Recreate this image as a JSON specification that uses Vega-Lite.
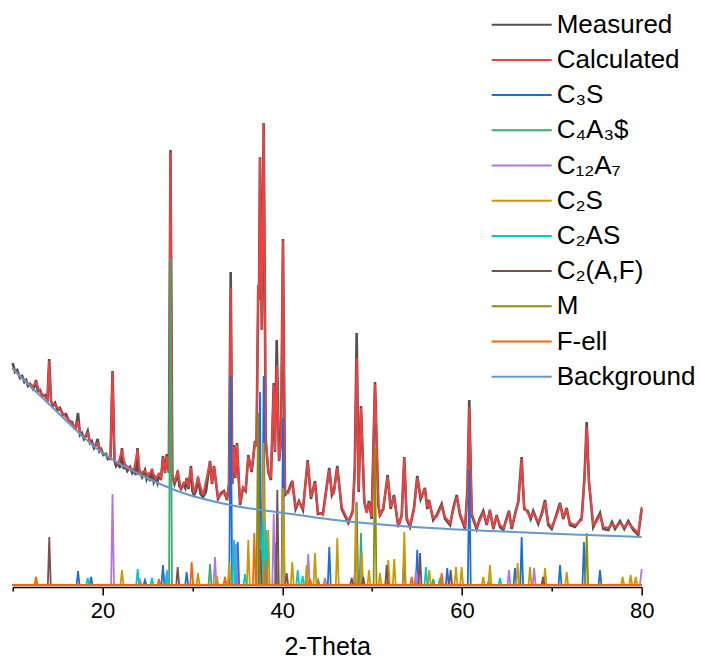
{
"$schema":"https://vega.github.io/schema/vega-lite/v6.json",
"width":629,"height":577,
"autosize":"none",
"padding":{"left":12.7,"top":10,"right":59.3,"bottom":73},
"config":{"view":{"stroke":null},"font":"Liberation Sans","axis":{"grid":false}},
"data":{"values":[
{"s":"Measured","x":10.0,"y":222},{"s":"Measured","x":10.25,"y":213},{"s":"Measured","x":10.5,"y":215},{"s":"Measured","x":10.81,"y":207},{"s":"Measured","x":11.05,"y":209},{"s":"Measured","x":11.3,"y":203},{"s":"Measured","x":11.5,"y":205},{"s":"Measured","x":11.7,"y":199},{"s":"Measured","x":11.95,"y":201},{"s":"Measured","x":12.26,"y":196},{"s":"Measured","x":12.45,"y":199},{"s":"Measured","x":12.59,"y":205},{"s":"Measured","x":12.8,"y":194},{"s":"Measured","x":13.04,"y":195},{"s":"Measured","x":13.3,"y":189},{"s":"Measured","x":13.59,"y":190},{"s":"Measured","x":13.87,"y":186},{"s":"Measured","x":14.06,"y":226},{"s":"Measured","x":14.26,"y":184},{"s":"Measured","x":14.5,"y":179},{"s":"Measured","x":14.71,"y":182},{"s":"Measured","x":15.0,"y":175},{"s":"Measured","x":15.26,"y":177},{"s":"Measured","x":15.6,"y":170},{"s":"Measured","x":15.93,"y":171},{"s":"Measured","x":16.25,"y":164},{"s":"Measured","x":16.6,"y":163},{"s":"Measured","x":16.85,"y":157},{"s":"Measured","x":17.04,"y":158},{"s":"Measured","x":17.27,"y":172},{"s":"Measured","x":17.49,"y":150},{"s":"Measured","x":17.7,"y":152},{"s":"Measured","x":17.93,"y":146},{"s":"Measured","x":18.15,"y":149},{"s":"Measured","x":18.35,"y":154},{"s":"Measured","x":18.6,"y":142},{"s":"Measured","x":18.8,"y":144},{"s":"Measured","x":19.05,"y":137},{"s":"Measured","x":19.25,"y":140},{"s":"Measured","x":19.46,"y":146},{"s":"Measured","x":19.65,"y":134},{"s":"Measured","x":19.83,"y":136},{"s":"Measured","x":20.1,"y":130},{"s":"Measured","x":20.38,"y":131},{"s":"Measured","x":20.6,"y":126},{"s":"Measured","x":20.88,"y":127},{"s":"Measured","x":21.11,"y":214},{"s":"Measured","x":21.33,"y":124},{"s":"Measured","x":21.5,"y":119},{"s":"Measured","x":21.72,"y":122},{"s":"Measured","x":21.95,"y":117},{"s":"Measured","x":22.16,"y":137},{"s":"Measured","x":22.35,"y":116},{"s":"Measured","x":22.49,"y":120},{"s":"Measured","x":22.75,"y":114},{"s":"Measured","x":23.05,"y":118},{"s":"Measured","x":23.3,"y":112},{"s":"Measured","x":23.5,"y":115},{"s":"Measured","x":23.7,"y":110},{"s":"Measured","x":23.89,"y":137},{"s":"Measured","x":24.05,"y":110},{"s":"Measured","x":24.17,"y":113},{"s":"Measured","x":24.4,"y":108},{"s":"Measured","x":24.72,"y":115},{"s":"Measured","x":24.9,"y":106},{"s":"Measured","x":25.06,"y":110},{"s":"Measured","x":25.3,"y":104},{"s":"Measured","x":25.5,"y":116},{"s":"Measured","x":25.7,"y":103},{"s":"Measured","x":25.89,"y":107},{"s":"Measured","x":26.1,"y":102},{"s":"Measured","x":26.28,"y":112},{"s":"Measured","x":26.5,"y":105},{"s":"Measured","x":26.72,"y":129},{"s":"Measured","x":26.95,"y":112},{"s":"Measured","x":27.14,"y":131},{"s":"Measured","x":27.38,"y":112},{"s":"Measured","x":27.56,"y":435},{"s":"Measured","x":27.76,"y":110},{"s":"Measured","x":28.01,"y":101},{"s":"Measured","x":28.2,"y":106},{"s":"Measured","x":28.36,"y":114},{"s":"Measured","x":28.55,"y":99},{"s":"Measured","x":28.73,"y":96},{"s":"Measured","x":29.0,"y":101},{"s":"Measured","x":29.2,"y":97},{"s":"Measured","x":29.36,"y":107},{"s":"Measured","x":29.56,"y":96},{"s":"Measured","x":29.84,"y":119},{"s":"Measured","x":30.0,"y":94},{"s":"Measured","x":30.17,"y":90},{"s":"Measured","x":30.4,"y":94},{"s":"Measured","x":30.62,"y":108},{"s":"Measured","x":30.9,"y":91},{"s":"Measured","x":31.18,"y":88},{"s":"Measured","x":31.5,"y":93},{"s":"Measured","x":31.96,"y":124},{"s":"Measured","x":32.18,"y":101},{"s":"Measured","x":32.4,"y":119},{"s":"Measured","x":32.85,"y":86},{"s":"Measured","x":33.2,"y":92},{"s":"Measured","x":33.51,"y":94},{"s":"Measured","x":33.85,"y":85},{"s":"Measured","x":34.07,"y":101},{"s":"Measured","x":34.26,"y":313},{"s":"Measured","x":34.44,"y":101},{"s":"Measured","x":34.6,"y":140},{"s":"Measured","x":34.77,"y":107},{"s":"Measured","x":34.96,"y":142},{"s":"Measured","x":35.3,"y":80},{"s":"Measured","x":35.63,"y":97},{"s":"Measured","x":35.93,"y":94},{"s":"Measured","x":36.22,"y":130},{"s":"Measured","x":36.6,"y":113},{"s":"Measured","x":36.96,"y":144},{"s":"Measured","x":37.13,"y":139},{"s":"Measured","x":37.33,"y":300},{"s":"Measured","x":37.41,"y":285},{"s":"Measured","x":37.52,"y":428},{"s":"Measured","x":37.72,"y":255},{"s":"Measured","x":37.93,"y":462},{"s":"Measured","x":38.16,"y":145},{"s":"Measured","x":38.44,"y":113},{"s":"Measured","x":38.74,"y":105},{"s":"Measured","x":39.05,"y":202},{"s":"Measured","x":39.19,"y":133},{"s":"Measured","x":39.38,"y":245},{"s":"Measured","x":39.64,"y":124},{"s":"Measured","x":39.86,"y":144},{"s":"Measured","x":40.08,"y":346},{"s":"Measured","x":40.3,"y":90},{"s":"Measured","x":40.67,"y":94},{"s":"Measured","x":41.11,"y":104},{"s":"Measured","x":41.49,"y":76},{"s":"Measured","x":41.86,"y":84},{"s":"Measured","x":42.3,"y":75},{"s":"Measured","x":42.83,"y":125},{"s":"Measured","x":43.19,"y":86},{"s":"Measured","x":43.64,"y":104},{"s":"Measured","x":43.97,"y":71},{"s":"Measured","x":44.53,"y":72},{"s":"Measured","x":45.23,"y":117},{"s":"Measured","x":45.53,"y":90},{"s":"Measured","x":45.75,"y":94},{"s":"Measured","x":46.12,"y":119},{"s":"Measured","x":46.61,"y":76},{"s":"Measured","x":47.35,"y":62},{"s":"Measured","x":47.84,"y":74},{"s":"Measured","x":48.07,"y":117},{"s":"Measured","x":48.28,"y":252},{"s":"Measured","x":48.5,"y":93},{"s":"Measured","x":48.76,"y":179},{"s":"Measured","x":49.13,"y":83},{"s":"Measured","x":49.39,"y":73},{"s":"Measured","x":49.65,"y":84},{"s":"Measured","x":49.95,"y":66},{"s":"Measured","x":50.32,"y":203},{"s":"Measured","x":50.69,"y":80},{"s":"Measured","x":50.87,"y":70},{"s":"Measured","x":51.24,"y":76},{"s":"Measured","x":51.73,"y":110},{"s":"Measured","x":52.06,"y":76},{"s":"Measured","x":52.43,"y":90},{"s":"Measured","x":52.91,"y":58},{"s":"Measured","x":53.29,"y":70},{"s":"Measured","x":53.58,"y":128},{"s":"Measured","x":53.84,"y":66},{"s":"Measured","x":54.21,"y":58},{"s":"Measured","x":54.66,"y":77},{"s":"Measured","x":55.02,"y":109},{"s":"Measured","x":55.4,"y":86},{"s":"Measured","x":55.88,"y":97},{"s":"Measured","x":56.14,"y":76},{"s":"Measured","x":56.33,"y":85},{"s":"Measured","x":56.8,"y":65},{"s":"Measured","x":57.18,"y":70},{"s":"Measured","x":57.74,"y":81},{"s":"Measured","x":58.11,"y":66},{"s":"Measured","x":58.67,"y":60},{"s":"Measured","x":59.03,"y":77},{"s":"Measured","x":59.41,"y":90},{"s":"Measured","x":59.78,"y":70},{"s":"Measured","x":60.34,"y":56},{"s":"Measured","x":60.61,"y":97},{"s":"Measured","x":60.81,"y":185},{"s":"Measured","x":61.08,"y":70},{"s":"Measured","x":61.63,"y":56},{"s":"Measured","x":62.0,"y":67},{"s":"Measured","x":62.37,"y":74},{"s":"Measured","x":62.75,"y":60},{"s":"Measured","x":63.11,"y":75},{"s":"Measured","x":63.49,"y":56},{"s":"Measured","x":63.86,"y":70},{"s":"Measured","x":64.23,"y":58},{"s":"Measured","x":64.6,"y":55},{"s":"Measured","x":64.9,"y":65},{"s":"Measured","x":65.23,"y":74},{"s":"Measured","x":65.53,"y":56},{"s":"Measured","x":65.98,"y":74},{"s":"Measured","x":66.27,"y":83},{"s":"Measured","x":66.46,"y":107},{"s":"Measured","x":66.64,"y":128},{"s":"Measured","x":66.79,"y":98},{"s":"Measured","x":66.93,"y":76},{"s":"Measured","x":67.31,"y":74},{"s":"Measured","x":67.64,"y":66},{"s":"Measured","x":67.93,"y":74},{"s":"Measured","x":68.49,"y":61},{"s":"Measured","x":68.9,"y":72},{"s":"Measured","x":69.24,"y":85},{"s":"Measured","x":69.6,"y":60},{"s":"Measured","x":69.98,"y":56},{"s":"Measured","x":70.46,"y":69},{"s":"Measured","x":70.91,"y":82},{"s":"Measured","x":71.27,"y":66},{"s":"Measured","x":71.65,"y":77},{"s":"Measured","x":72.02,"y":60},{"s":"Measured","x":72.58,"y":58},{"s":"Measured","x":73.32,"y":67},{"s":"Measured","x":73.63,"y":107},{"s":"Measured","x":73.88,"y":163},{"s":"Measured","x":74.13,"y":103},{"s":"Measured","x":74.61,"y":58},{"s":"Measured","x":74.97,"y":65},{"s":"Measured","x":75.36,"y":72},{"s":"Measured","x":75.73,"y":56},{"s":"Measured","x":76.29,"y":55},{"s":"Measured","x":76.7,"y":63},{"s":"Measured","x":77.03,"y":56},{"s":"Measured","x":77.59,"y":64},{"s":"Measured","x":78.06,"y":56},{"s":"Measured","x":78.51,"y":64},{"s":"Measured","x":79.06,"y":55},{"s":"Measured","x":79.62,"y":50},{"s":"Measured","x":80.0,"y":76},
{"s":"Calculated","x":10.0,"y":217},{"s":"Calculated","x":10.81,"y":209},{"s":"Calculated","x":11.7,"y":202},{"s":"Calculated","x":12.26,"y":199},{"s":"Calculated","x":12.59,"y":203},{"s":"Calculated","x":13.04,"y":193},{"s":"Calculated","x":13.59,"y":188},{"s":"Calculated","x":13.87,"y":185},{"s":"Calculated","x":14.06,"y":224},{"s":"Calculated","x":14.26,"y":183},{"s":"Calculated","x":14.71,"y":180},{"s":"Calculated","x":15.26,"y":175},{"s":"Calculated","x":15.93,"y":168},{"s":"Calculated","x":16.6,"y":161},{"s":"Calculated","x":17.04,"y":156},{"s":"Calculated","x":17.27,"y":164},{"s":"Calculated","x":17.49,"y":152},{"s":"Calculated","x":17.93,"y":148},{"s":"Calculated","x":18.35,"y":152},{"s":"Calculated","x":18.6,"y":143},{"s":"Calculated","x":19.05,"y":139},{"s":"Calculated","x":19.46,"y":142},{"s":"Calculated","x":19.83,"y":134},{"s":"Calculated","x":20.38,"y":130},{"s":"Calculated","x":20.88,"y":126},{"s":"Calculated","x":21.11,"y":213},{"s":"Calculated","x":21.33,"y":124},{"s":"Calculated","x":21.72,"y":121},{"s":"Calculated","x":22.16,"y":135},{"s":"Calculated","x":22.49,"y":120},{"s":"Calculated","x":23.05,"y":117},{"s":"Calculated","x":23.5,"y":115},{"s":"Calculated","x":23.89,"y":135},{"s":"Calculated","x":24.17,"y":112},{"s":"Calculated","x":24.72,"y":114},{"s":"Calculated","x":25.06,"y":109},{"s":"Calculated","x":25.5,"y":115},{"s":"Calculated","x":25.89,"y":106},{"s":"Calculated","x":26.28,"y":111},{"s":"Calculated","x":26.5,"y":107},{"s":"Calculated","x":26.72,"y":127},{"s":"Calculated","x":26.95,"y":113},{"s":"Calculated","x":27.14,"y":129},{"s":"Calculated","x":27.38,"y":113},{"s":"Calculated","x":27.56,"y":432},{"s":"Calculated","x":27.76,"y":110},{"s":"Calculated","x":28.01,"y":103},{"s":"Calculated","x":28.36,"y":113},{"s":"Calculated","x":28.73,"y":97},{"s":"Calculated","x":29.36,"y":105},{"s":"Calculated","x":29.56,"y":98},{"s":"Calculated","x":29.84,"y":117},{"s":"Calculated","x":30.17,"y":92},{"s":"Calculated","x":30.62,"y":107},{"s":"Calculated","x":31.18,"y":90},{"s":"Calculated","x":31.96,"y":123},{"s":"Calculated","x":32.18,"y":102},{"s":"Calculated","x":32.4,"y":118},{"s":"Calculated","x":32.85,"y":88},{"s":"Calculated","x":33.51,"y":93},{"s":"Calculated","x":33.85,"y":87},{"s":"Calculated","x":34.07,"y":100},{"s":"Calculated","x":34.26,"y":297},{"s":"Calculated","x":34.44,"y":102},{"s":"Calculated","x":34.6,"y":138},{"s":"Calculated","x":34.77,"y":108},{"s":"Calculated","x":34.96,"y":140},{"s":"Calculated","x":35.3,"y":82},{"s":"Calculated","x":35.63,"y":98},{"s":"Calculated","x":35.93,"y":95},{"s":"Calculated","x":36.22,"y":128},{"s":"Calculated","x":36.6,"y":115},{"s":"Calculated","x":36.96,"y":142},{"s":"Calculated","x":37.13,"y":140},{"s":"Calculated","x":37.33,"y":300},{"s":"Calculated","x":37.41,"y":285},{"s":"Calculated","x":37.52,"y":428},{"s":"Calculated","x":37.72,"y":255},{"s":"Calculated","x":37.93,"y":462},{"s":"Calculated","x":38.16,"y":145},{"s":"Calculated","x":38.44,"y":115},{"s":"Calculated","x":38.74,"y":107},{"s":"Calculated","x":39.05,"y":200},{"s":"Calculated","x":39.19,"y":135},{"s":"Calculated","x":39.38,"y":220},{"s":"Calculated","x":39.64,"y":125},{"s":"Calculated","x":39.86,"y":142},{"s":"Calculated","x":40.08,"y":344},{"s":"Calculated","x":40.3,"y":92},{"s":"Calculated","x":40.67,"y":92},{"s":"Calculated","x":41.11,"y":102},{"s":"Calculated","x":41.49,"y":78},{"s":"Calculated","x":41.86,"y":83},{"s":"Calculated","x":42.3,"y":77},{"s":"Calculated","x":42.83,"y":123},{"s":"Calculated","x":43.19,"y":88},{"s":"Calculated","x":43.64,"y":102},{"s":"Calculated","x":43.97,"y":73},{"s":"Calculated","x":44.53,"y":70},{"s":"Calculated","x":45.23,"y":115},{"s":"Calculated","x":45.53,"y":92},{"s":"Calculated","x":45.75,"y":92},{"s":"Calculated","x":46.12,"y":117},{"s":"Calculated","x":46.61,"y":78},{"s":"Calculated","x":47.35,"y":64},{"s":"Calculated","x":47.84,"y":72},{"s":"Calculated","x":48.07,"y":115},{"s":"Calculated","x":48.28,"y":227},{"s":"Calculated","x":48.5,"y":95},{"s":"Calculated","x":48.76,"y":177},{"s":"Calculated","x":49.13,"y":85},{"s":"Calculated","x":49.39,"y":72},{"s":"Calculated","x":49.65,"y":82},{"s":"Calculated","x":49.95,"y":68},{"s":"Calculated","x":50.32,"y":201},{"s":"Calculated","x":50.69,"y":82},{"s":"Calculated","x":50.87,"y":68},{"s":"Calculated","x":51.24,"y":78},{"s":"Calculated","x":51.73,"y":108},{"s":"Calculated","x":52.06,"y":78},{"s":"Calculated","x":52.43,"y":88},{"s":"Calculated","x":52.91,"y":60},{"s":"Calculated","x":53.29,"y":68},{"s":"Calculated","x":53.58,"y":127},{"s":"Calculated","x":53.84,"y":68},{"s":"Calculated","x":54.21,"y":60},{"s":"Calculated","x":54.66,"y":75},{"s":"Calculated","x":55.02,"y":107},{"s":"Calculated","x":55.4,"y":88},{"s":"Calculated","x":55.88,"y":95},{"s":"Calculated","x":56.14,"y":78},{"s":"Calculated","x":56.33,"y":83},{"s":"Calculated","x":56.8,"y":67},{"s":"Calculated","x":57.18,"y":68},{"s":"Calculated","x":57.74,"y":79},{"s":"Calculated","x":58.11,"y":68},{"s":"Calculated","x":58.67,"y":62},{"s":"Calculated","x":59.03,"y":75},{"s":"Calculated","x":59.41,"y":88},{"s":"Calculated","x":59.78,"y":72},{"s":"Calculated","x":60.34,"y":58},{"s":"Calculated","x":60.61,"y":95},{"s":"Calculated","x":60.81,"y":178},{"s":"Calculated","x":61.08,"y":72},{"s":"Calculated","x":61.63,"y":58},{"s":"Calculated","x":62.0,"y":65},{"s":"Calculated","x":62.37,"y":72},{"s":"Calculated","x":62.75,"y":62},{"s":"Calculated","x":63.11,"y":73},{"s":"Calculated","x":63.49,"y":58},{"s":"Calculated","x":63.86,"y":68},{"s":"Calculated","x":64.23,"y":60},{"s":"Calculated","x":64.6,"y":57},{"s":"Calculated","x":64.9,"y":63},{"s":"Calculated","x":65.23,"y":72},{"s":"Calculated","x":65.53,"y":58},{"s":"Calculated","x":65.98,"y":72},{"s":"Calculated","x":66.27,"y":85},{"s":"Calculated","x":66.46,"y":105},{"s":"Calculated","x":66.64,"y":126},{"s":"Calculated","x":66.79,"y":100},{"s":"Calculated","x":66.93,"y":78},{"s":"Calculated","x":67.31,"y":72},{"s":"Calculated","x":67.64,"y":68},{"s":"Calculated","x":67.93,"y":72},{"s":"Calculated","x":68.49,"y":63},{"s":"Calculated","x":68.9,"y":70},{"s":"Calculated","x":69.24,"y":83},{"s":"Calculated","x":69.6,"y":62},{"s":"Calculated","x":69.98,"y":58},{"s":"Calculated","x":70.46,"y":67},{"s":"Calculated","x":70.91,"y":80},{"s":"Calculated","x":71.27,"y":68},{"s":"Calculated","x":71.65,"y":75},{"s":"Calculated","x":72.02,"y":62},{"s":"Calculated","x":72.58,"y":60},{"s":"Calculated","x":73.32,"y":65},{"s":"Calculated","x":73.63,"y":105},{"s":"Calculated","x":73.88,"y":158},{"s":"Calculated","x":74.13,"y":105},{"s":"Calculated","x":74.61,"y":60},{"s":"Calculated","x":74.97,"y":63},{"s":"Calculated","x":75.36,"y":70},{"s":"Calculated","x":75.73,"y":58},{"s":"Calculated","x":76.29,"y":57},{"s":"Calculated","x":76.7,"y":61},{"s":"Calculated","x":77.03,"y":58},{"s":"Calculated","x":77.59,"y":62},{"s":"Calculated","x":78.06,"y":58},{"s":"Calculated","x":78.51,"y":62},{"s":"Calculated","x":79.06,"y":57},{"s":"Calculated","x":79.62,"y":52},{"s":"Calculated","x":80.0,"y":78},
{"s":"C₃S","x":10,"y":0},{"s":"C₃S","x":17.11,"y":0},{"s":"C₃S","x":17.27,"y":14},{"s":"C₃S","x":17.43,"y":0},{"s":"C₃S","x":18.56,"y":0},{"s":"C₃S","x":18.72,"y":8},{"s":"C₃S","x":18.88,"y":0},{"s":"C₃S","x":24.56,"y":0},{"s":"C₃S","x":24.72,"y":5},{"s":"C₃S","x":24.88,"y":0},{"s":"C₃S","x":26.56,"y":0},{"s":"C₃S","x":26.72,"y":20},{"s":"C₃S","x":26.88,"y":0},{"s":"C₃S","x":29.2,"y":0},{"s":"C₃S","x":29.36,"y":13},{"s":"C₃S","x":29.52,"y":0},{"s":"C₃S","x":34.1,"y":0},{"s":"C₃S","x":34.26,"y":209},{"s":"C₃S","x":34.42,"y":0},{"s":"C₃S","x":34.88,"y":0},{"s":"C₃S","x":35.04,"y":43},{"s":"C₃S","x":35.2,"y":0},{"s":"C₃S","x":37.36,"y":0},{"s":"C₃S","x":37.52,"y":193},{"s":"C₃S","x":37.68,"y":0},{"s":"C₃S","x":37.77,"y":0},{"s":"C₃S","x":37.93,"y":209},{"s":"C₃S","x":38.09,"y":0},{"s":"C₃S","x":39.92,"y":0},{"s":"C₃S","x":40.08,"y":167},{"s":"C₃S","x":40.24,"y":0},{"s":"C₃S","x":45.07,"y":0},{"s":"C₃S","x":45.23,"y":38},{"s":"C₃S","x":45.39,"y":0},{"s":"C₃S","x":48.12,"y":0},{"s":"C₃S","x":48.28,"y":83},{"s":"C₃S","x":48.44,"y":0},{"s":"C₃S","x":53.39,"y":0},{"s":"C₃S","x":53.55,"y":25},{"s":"C₃S","x":53.71,"y":0},{"s":"C₃S","x":54.86,"y":0},{"s":"C₃S","x":55.02,"y":35},{"s":"C₃S","x":55.18,"y":0},{"s":"C₃S","x":58.2,"y":0},{"s":"C₃S","x":58.36,"y":17},{"s":"C₃S","x":58.52,"y":0},{"s":"C₃S","x":60.65,"y":0},{"s":"C₃S","x":60.81,"y":116},{"s":"C₃S","x":60.97,"y":0},{"s":"C₃S","x":65.74,"y":0},{"s":"C₃S","x":65.9,"y":17},{"s":"C₃S","x":66.06,"y":0},{"s":"C₃S","x":66.48,"y":0},{"s":"C₃S","x":66.64,"y":48},{"s":"C₃S","x":66.8,"y":0},{"s":"C₃S","x":70.75,"y":0},{"s":"C₃S","x":70.91,"y":20},{"s":"C₃S","x":71.07,"y":0},{"s":"C₃S","x":73.41,"y":0},{"s":"C₃S","x":73.57,"y":43},{"s":"C₃S","x":73.73,"y":0},{"s":"C₃S","x":75.2,"y":0},{"s":"C₃S","x":75.36,"y":15},{"s":"C₃S","x":75.52,"y":0},{"s":"C₃S","x":80,"y":0},
{"s":"C₄A₃$","x":10,"y":0},{"s":"C₄A₃$","x":27.4,"y":0},{"s":"C₄A₃$","x":27.56,"y":327},{"s":"C₄A₃$","x":27.72,"y":0},{"s":"C₄A₃$","x":31.8,"y":0},{"s":"C₄A₃$","x":31.96,"y":21},{"s":"C₄A₃$","x":32.12,"y":0},{"s":"C₄A₃$","x":39.14,"y":0},{"s":"C₄A₃$","x":39.3,"y":42},{"s":"C₄A₃$","x":39.46,"y":0},{"s":"C₄A₃$","x":43.84,"y":0},{"s":"C₄A₃$","x":44.0,"y":5},{"s":"C₄A₃$","x":44.16,"y":0},{"s":"C₄A₃$","x":48.6,"y":0},{"s":"C₄A₃$","x":48.76,"y":52},{"s":"C₄A₃$","x":48.92,"y":0},{"s":"C₄A₃$","x":56.64,"y":0},{"s":"C₄A₃$","x":56.8,"y":6},{"s":"C₄A₃$","x":56.96,"y":0},{"s":"C₄A₃$","x":62.84,"y":0},{"s":"C₄A₃$","x":63.0,"y":5},{"s":"C₄A₃$","x":63.16,"y":0},{"s":"C₄A₃$","x":68.84,"y":0},{"s":"C₄A₃$","x":69.0,"y":4},{"s":"C₄A₃$","x":69.16,"y":0},{"s":"C₄A₃$","x":80,"y":0},
{"s":"C₁₂A₇","x":10,"y":0},{"s":"C₁₂A₇","x":20.95,"y":0},{"s":"C₁₂A₇","x":21.11,"y":91},{"s":"C₁₂A₇","x":21.27,"y":0},{"s":"C₁₂A₇","x":24.01,"y":0},{"s":"C₁₂A₇","x":24.17,"y":5},{"s":"C₁₂A₇","x":24.33,"y":0},{"s":"C₁₂A₇","x":27.04,"y":0},{"s":"C₁₂A₇","x":27.2,"y":15},{"s":"C₁₂A₇","x":27.36,"y":0},{"s":"C₁₂A₇","x":32.35,"y":0},{"s":"C₁₂A₇","x":32.51,"y":28},{"s":"C₁₂A₇","x":32.67,"y":0},{"s":"C₁₂A₇","x":34.69,"y":0},{"s":"C₁₂A₇","x":34.85,"y":41},{"s":"C₁₂A₇","x":35.01,"y":0},{"s":"C₁₂A₇","x":38.89,"y":0},{"s":"C₁₂A₇","x":39.05,"y":71},{"s":"C₁₂A₇","x":39.21,"y":0},{"s":"C₁₂A₇","x":42.73,"y":0},{"s":"C₁₂A₇","x":42.89,"y":31},{"s":"C₁₂A₇","x":43.05,"y":0},{"s":"C₁₂A₇","x":44.59,"y":0},{"s":"C₁₂A₇","x":44.75,"y":7},{"s":"C₁₂A₇","x":44.91,"y":0},{"s":"C₁₂A₇","x":47.93,"y":0},{"s":"C₁₂A₇","x":48.09,"y":12},{"s":"C₁₂A₇","x":48.25,"y":0},{"s":"C₁₂A₇","x":54.72,"y":0},{"s":"C₁₂A₇","x":54.88,"y":15},{"s":"C₁₂A₇","x":55.04,"y":0},{"s":"C₁₂A₇","x":65.07,"y":0},{"s":"C₁₂A₇","x":65.23,"y":15},{"s":"C₁₂A₇","x":65.39,"y":0},{"s":"C₁₂A₇","x":67.87,"y":0},{"s":"C₁₂A₇","x":68.03,"y":17},{"s":"C₁₂A₇","x":68.19,"y":0},{"s":"C₁₂A₇","x":79.8,"y":0},{"s":"C₁₂A₇","x":80,"y":16},
{"s":"C₂S","x":10,"y":0},{"s":"C₂S","x":22.0,"y":0},{"s":"C₂S","x":22.16,"y":15},{"s":"C₂S","x":22.32,"y":0},{"s":"C₂S","x":30.46,"y":0},{"s":"C₂S","x":30.62,"y":12},{"s":"C₂S","x":30.78,"y":0},{"s":"C₂S","x":32.55,"y":0},{"s":"C₂S","x":32.71,"y":9},{"s":"C₂S","x":32.87,"y":0},{"s":"C₂S","x":33.94,"y":0},{"s":"C₂S","x":34.1,"y":23},{"s":"C₂S","x":34.26,"y":0},{"s":"C₂S","x":36.06,"y":0},{"s":"C₂S","x":36.22,"y":45},{"s":"C₂S","x":36.38,"y":0},{"s":"C₂S","x":37.75,"y":0},{"s":"C₂S","x":37.91,"y":142},{"s":"C₂S","x":38.07,"y":0},{"s":"C₂S","x":38.28,"y":0},{"s":"C₂S","x":38.44,"y":55},{"s":"C₂S","x":38.6,"y":0},{"s":"C₂S","x":39.95,"y":0},{"s":"C₂S","x":40.11,"y":97},{"s":"C₂S","x":40.27,"y":0},{"s":"C₂S","x":40.95,"y":0},{"s":"C₂S","x":41.11,"y":23},{"s":"C₂S","x":41.27,"y":0},{"s":"C₂S","x":42.56,"y":0},{"s":"C₂S","x":42.72,"y":20},{"s":"C₂S","x":42.88,"y":0},{"s":"C₂S","x":43.48,"y":0},{"s":"C₂S","x":43.64,"y":32},{"s":"C₂S","x":43.8,"y":0},{"s":"C₂S","x":45.96,"y":0},{"s":"C₂S","x":46.12,"y":47},{"s":"C₂S","x":46.28,"y":0},{"s":"C₂S","x":48.04,"y":0},{"s":"C₂S","x":48.2,"y":82},{"s":"C₂S","x":48.36,"y":0},{"s":"C₂S","x":48.68,"y":0},{"s":"C₂S","x":48.84,"y":32},{"s":"C₂S","x":49.0,"y":0},{"s":"C₂S","x":49.49,"y":0},{"s":"C₂S","x":49.65,"y":15},{"s":"C₂S","x":49.81,"y":0},{"s":"C₂S","x":50.71,"y":0},{"s":"C₂S","x":50.87,"y":12},{"s":"C₂S","x":51.03,"y":0},{"s":"C₂S","x":51.64,"y":0},{"s":"C₂S","x":51.8,"y":25},{"s":"C₂S","x":51.96,"y":0},{"s":"C₂S","x":52.3,"y":0},{"s":"C₂S","x":52.46,"y":26},{"s":"C₂S","x":52.62,"y":0},{"s":"C₂S","x":53.42,"y":0},{"s":"C₂S","x":53.58,"y":53},{"s":"C₂S","x":53.74,"y":0},{"s":"C₂S","x":56.2,"y":0},{"s":"C₂S","x":56.36,"y":15},{"s":"C₂S","x":56.52,"y":0},{"s":"C₂S","x":59.17,"y":0},{"s":"C₂S","x":59.33,"y":18},{"s":"C₂S","x":59.49,"y":0},{"s":"C₂S","x":59.8,"y":0},{"s":"C₂S","x":59.96,"y":18},{"s":"C₂S","x":60.12,"y":0},{"s":"C₂S","x":62.21,"y":0},{"s":"C₂S","x":62.37,"y":8},{"s":"C₂S","x":62.53,"y":0},{"s":"C₂S","x":62.95,"y":0},{"s":"C₂S","x":63.11,"y":20},{"s":"C₂S","x":63.27,"y":0},{"s":"C₂S","x":66.03,"y":0},{"s":"C₂S","x":66.19,"y":22},{"s":"C₂S","x":66.35,"y":0},{"s":"C₂S","x":67.41,"y":0},{"s":"C₂S","x":67.57,"y":18},{"s":"C₂S","x":67.73,"y":0},{"s":"C₂S","x":69.08,"y":0},{"s":"C₂S","x":69.24,"y":17},{"s":"C₂S","x":69.4,"y":0},{"s":"C₂S","x":71.49,"y":0},{"s":"C₂S","x":71.65,"y":13},{"s":"C₂S","x":71.81,"y":0},{"s":"C₂S","x":77.72,"y":0},{"s":"C₂S","x":77.88,"y":8},{"s":"C₂S","x":78.04,"y":0},{"s":"C₂S","x":78.61,"y":0},{"s":"C₂S","x":78.77,"y":10},{"s":"C₂S","x":78.93,"y":0},{"s":"C₂S","x":79.18,"y":0},{"s":"C₂S","x":79.34,"y":8},{"s":"C₂S","x":79.5,"y":0},{"s":"C₂S","x":80,"y":0},
{"s":"C₂AS","x":10,"y":0},{"s":"C₂AS","x":18.19,"y":0},{"s":"C₂AS","x":18.35,"y":7},{"s":"C₂AS","x":18.51,"y":0},{"s":"C₂AS","x":23.75,"y":0},{"s":"C₂AS","x":23.91,"y":16},{"s":"C₂AS","x":24.07,"y":0},{"s":"C₂AS","x":25.34,"y":0},{"s":"C₂AS","x":25.5,"y":7},{"s":"C₂AS","x":25.66,"y":0},{"s":"C₂AS","x":26.98,"y":0},{"s":"C₂AS","x":27.14,"y":13},{"s":"C₂AS","x":27.3,"y":0},{"s":"C₂AS","x":34.47,"y":0},{"s":"C₂AS","x":34.63,"y":45},{"s":"C₂AS","x":34.79,"y":0},{"s":"C₂AS","x":35.69,"y":0},{"s":"C₂AS","x":35.85,"y":11},{"s":"C₂AS","x":36.01,"y":0},{"s":"C₂AS","x":37.67,"y":0},{"s":"C₂AS","x":37.83,"y":65},{"s":"C₂AS","x":37.99,"y":0},{"s":"C₂AS","x":38.07,"y":0},{"s":"C₂AS","x":38.23,"y":55},{"s":"C₂AS","x":38.39,"y":0},{"s":"C₂AS","x":41.56,"y":0},{"s":"C₂AS","x":41.72,"y":15},{"s":"C₂AS","x":41.88,"y":0},{"s":"C₂AS","x":42.11,"y":0},{"s":"C₂AS","x":42.27,"y":9},{"s":"C₂AS","x":42.43,"y":0},{"s":"C₂AS","x":55.83,"y":0},{"s":"C₂AS","x":55.99,"y":18},{"s":"C₂AS","x":56.15,"y":0},{"s":"C₂AS","x":57.39,"y":0},{"s":"C₂AS","x":57.55,"y":7},{"s":"C₂AS","x":57.71,"y":0},{"s":"C₂AS","x":64.07,"y":0},{"s":"C₂AS","x":64.23,"y":7},{"s":"C₂AS","x":64.39,"y":0},{"s":"C₂AS","x":80,"y":0},
{"s":"C₂(A,F)","x":10,"y":0},{"s":"C₂(A,F)","x":13.91,"y":0},{"s":"C₂(A,F)","x":14.07,"y":48},{"s":"C₂(A,F)","x":14.23,"y":0},{"s":"C₂(A,F)","x":28.2,"y":0},{"s":"C₂(A,F)","x":28.36,"y":18},{"s":"C₂(A,F)","x":28.52,"y":0},{"s":"C₂(A,F)","x":37.39,"y":0},{"s":"C₂(A,F)","x":37.55,"y":36},{"s":"C₂(A,F)","x":37.71,"y":0},{"s":"C₂(A,F)","x":39.29,"y":0},{"s":"C₂(A,F)","x":39.45,"y":95},{"s":"C₂(A,F)","x":39.61,"y":0},{"s":"C₂(A,F)","x":40.33,"y":0},{"s":"C₂(A,F)","x":40.49,"y":12},{"s":"C₂(A,F)","x":40.65,"y":0},{"s":"C₂(A,F)","x":47.56,"y":0},{"s":"C₂(A,F)","x":47.72,"y":7},{"s":"C₂(A,F)","x":47.88,"y":0},{"s":"C₂(A,F)","x":48.85,"y":0},{"s":"C₂(A,F)","x":49.01,"y":8},{"s":"C₂(A,F)","x":49.17,"y":0},{"s":"C₂(A,F)","x":51.46,"y":0},{"s":"C₂(A,F)","x":51.62,"y":20},{"s":"C₂(A,F)","x":51.78,"y":0},{"s":"C₂(A,F)","x":55.17,"y":0},{"s":"C₂(A,F)","x":55.33,"y":32},{"s":"C₂(A,F)","x":55.49,"y":0},{"s":"C₂(A,F)","x":58.58,"y":0},{"s":"C₂(A,F)","x":58.74,"y":15},{"s":"C₂(A,F)","x":58.9,"y":0},{"s":"C₂(A,F)","x":68.86,"y":0},{"s":"C₂(A,F)","x":69.02,"y":8},{"s":"C₂(A,F)","x":69.18,"y":0},{"s":"C₂(A,F)","x":80,"y":0},
{"s":"M","x":10,"y":0},{"s":"M","x":37.14,"y":0},{"s":"M","x":37.3,"y":172},{"s":"M","x":37.46,"y":0},{"s":"M","x":50.16,"y":0},{"s":"M","x":50.32,"y":137},{"s":"M","x":50.48,"y":0},{"s":"M","x":73.72,"y":0},{"s":"M","x":73.88,"y":52},{"s":"M","x":74.04,"y":0},{"s":"M","x":80,"y":0},
{"s":"F-ell","x":10,"y":0},{"s":"F-ell","x":12.43,"y":0},{"s":"F-ell","x":12.59,"y":8},{"s":"F-ell","x":12.75,"y":0},{"s":"F-ell","x":26.12,"y":0},{"s":"F-ell","x":26.28,"y":6},{"s":"F-ell","x":26.44,"y":0},{"s":"F-ell","x":29.76,"y":0},{"s":"F-ell","x":29.92,"y":23},{"s":"F-ell","x":30.08,"y":0},{"s":"F-ell","x":33.47,"y":0},{"s":"F-ell","x":33.63,"y":8},{"s":"F-ell","x":33.79,"y":0},{"s":"F-ell","x":36.73,"y":0},{"s":"F-ell","x":36.89,"y":52},{"s":"F-ell","x":37.05,"y":0},{"s":"F-ell","x":38.0,"y":0},{"s":"F-ell","x":38.16,"y":25},{"s":"F-ell","x":38.32,"y":0},{"s":"F-ell","x":42.94,"y":0},{"s":"F-ell","x":43.1,"y":6},{"s":"F-ell","x":43.26,"y":0},{"s":"F-ell","x":54.24,"y":0},{"s":"F-ell","x":54.4,"y":8},{"s":"F-ell","x":54.56,"y":0},{"s":"F-ell","x":57.58,"y":0},{"s":"F-ell","x":57.74,"y":12},{"s":"F-ell","x":57.9,"y":0},{"s":"F-ell","x":80,"y":0},
{"s":"Background","x":10.0,"y":216},{"s":"Background","x":11.93,"y":199},{"s":"Background","x":14.15,"y":180},{"s":"Background","x":17.16,"y":154},{"s":"Background","x":19.71,"y":134},{"s":"Background","x":21.94,"y":121},{"s":"Background","x":24.5,"y":109},{"s":"Background","x":28.62,"y":93},{"s":"Background","x":34.18,"y":80},{"s":"Background","x":40.08,"y":72},{"s":"Background","x":45.87,"y":65},{"s":"Background","x":53.1,"y":59},{"s":"Background","x":63.11,"y":54},{"s":"Background","x":70.9,"y":51},{"s":"Background","x":80.0,"y":48}
]},
"encoding":{
"y":{"field":"y","type":"quantitative","scale":{"domain":[-2,575],"nice":false,"zero":false},"axis":null},
"color":{"field":"s","type":"nominal",
"scale":{"domain":["Measured","Calculated","C₃S","C₄A₃$","C₁₂A₇","C₂S","C₂AS","C₂(A,F)","M","F-ell","Background"],
"range":["#515151","#F14040","#1A6FDF","#37AD6B","#B177DE","#CC9900","#00CBCC","#7D4E4E","#8E8E00","#FB6501","#6699CC"]},
"legend":{"orient":"none","legendX":493,"legendY":-1.3,"title":null,"padding":0,"symbolType":"M-2,0H2","symbolSize":900,"symbolStrokeWidth":2,"labelFontSize":26,"labelFont":"Liberation Sans","labelColor":"#000000","labelOffset":19,"rowPadding":6.2,"labelLimit":300}}
},
"layer":[
{"transform":[{"filter":"datum.s === 'Measured'"}],
 "mark":{"type":"line","strokeWidth":2.6},
 "encoding":{"x":{"field":"x","type":"quantitative","scale":{"domain":[10,80],"nice":false,"zero":false},
  "axis":{"orient":"bottom","values":[20,40,60,80],"tickSize":8,"tickWidth":1.5,"tickColor":"#000000","domainColor":"#000000","domainWidth":1.5,"labelFontSize":22,"labelFont":"Liberation Sans","labelColor":"#000000","labelPadding":5,"labelFlush":false,"title":"2-Theta","titleFont":"Liberation Sans","titleFontSize":25,"titleFontWeight":"normal","titleColor":"#000000","titlePadding":13}}}},
{"transform":[{"filter":"datum.s === 'Calculated'"}],
 "mark":{"type":"line","strokeWidth":2},
 "encoding":{"x":{"field":"x","type":"quantitative","axis":null}}},
{"transform":[{"filter":{"field":"s","oneOf":["C₃S","C₄A₃$","C₁₂A₇","C₂S","C₂AS","C₂(A,F)","M","F-ell"]}}],
 "mark":{"type":"line","strokeWidth":1.8},
 "encoding":{"x":{"field":"x","type":"quantitative","axis":null}}},
{"transform":[{"filter":"datum.s === 'Background'"}],
 "mark":{"type":"line","strokeWidth":2,"interpolate":"monotone"},
 "encoding":{"x":{"field":"x","type":"quantitative",
  "axis":{"orient":"bottom","values":[10,30,50,70],"tickSize":4,"tickWidth":1.5,"tickColor":"#000000","domain":false,"labels":false,"title":null}}}}
],
"resolve":{"axis":{"x":"independent"}}
}
